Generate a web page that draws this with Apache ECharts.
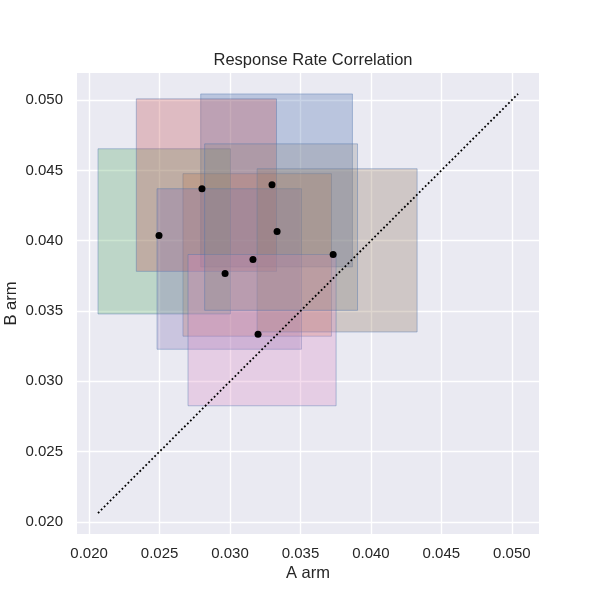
<!DOCTYPE html>
<html>
<head>
<meta charset="utf-8">
<script src="https://cdn.jsdelivr.net/npm/echarts@6/dist/echarts.min.js"></script>
<style>html,body{margin:0;padding:0;background:#fff;}#chart{width:600px;height:600px;}</style>
</head>
<body>
<div id="chart"></div>
<script>
// Point estimates (A arm rate, B arm rate)
const aRate = [0.03298, 0.03163, 0.02496, 0.02801, 0.02965, 0.03732, 0.03199, 0.03334];
const bRate = [0.04399, 0.03867, 0.04037, 0.04370, 0.03767, 0.03902, 0.03335, 0.04065];
// Interval bounds
const aLow  = [0.02792, 0.02666, 0.02063, 0.02335, 0.02482, 0.03192, 0.02702, 0.02820];
const aHigh = [0.03869, 0.03720, 0.03003, 0.03330, 0.03507, 0.04328, 0.03753, 0.03905];
const bLow  = [0.03814, 0.03321, 0.03479, 0.03782, 0.03228, 0.03351, 0.02826, 0.03505];
const bHigh = [0.05044, 0.04477, 0.04654, 0.05009, 0.04370, 0.04512, 0.03902, 0.04689];
const boxColors = ['#4C72B0', '#DD8452', '#55A868', '#C44E52', '#8172B3', '#937860', '#DA8BC3', '#8C8C8C'];
// Reference diagonal ends
const diagonal = [0.02063, 0.05044];
// Axis
const axisRange = [0.01914, 0.05193];
const tickValues = [0.020, 0.025, 0.030, 0.035, 0.040, 0.045, 0.050];

function hexA(hex, a) {
  const r = parseInt(hex.slice(1,3),16), g = parseInt(hex.slice(3,5),16), b = parseInt(hex.slice(5,7),16);
  return 'rgba(' + r + ',' + g + ',' + b + ',' + a + ')';
}

const boxData = aLow.map((v, i) => [aLow[i], aHigh[i], bLow[i], bHigh[i], i]);
const pts = aRate.map((v, i) => [aRate[i], bRate[i]]);
const textColor = '#262626';
const font = 'Liberation Sans, Arial, sans-serif';

function makeAxis(name, isY) {
  return {
    type: 'value',
    min: axisRange[0], max: axisRange[1],
    name: name,
    nameLocation: 'middle',
    nameGap: isY ? 57 : 31,
    nameMoveOverlap: false,
    nameTextStyle: { color: textColor, fontSize: 16.5, fontFamily: font },
    axisLine: { show: false },
    axisTick: { show: false, customValues: tickValues },
    axisLabel: {
      customValues: tickValues,
      color: textColor, fontSize: 15, fontFamily: font,
      margin: isY ? 14 : 12,
      formatter: v => Number(v).toFixed(3)
    },
    splitLine: { show: true, lineStyle: { color: '#ffffff', width: 1.4 } }
  };
}

const chart = echarts.init(document.getElementById('chart'), null, { renderer: 'canvas' });
chart.setOption({
  animation: false,
  backgroundColor: '#ffffff',
  title: {
    text: 'Response Rate Correlation',
    left: 308, top: 47, textAlign: 'center',
    textStyle: { color: textColor, fontSize: 16.5, fontWeight: 'normal', fontFamily: font }
  },
  grid: { left: 77, right: 61, top: 73, bottom: 66, show: true, backgroundColor: '#EAEAF2', borderWidth: 0,
          containLabel: false, outerBoundsMode: 'none' },
  xAxis: makeAxis('A arm', false),
  yAxis: makeAxis('B arm', true),
  series: [
    {
      type: 'custom',
      data: boxData,
      encode: { x: [0, 1], y: [2, 3] },
      renderItem: function (params, api) {
        const p0 = api.coord([api.value(0), api.value(3)]);
        const p1 = api.coord([api.value(1), api.value(2)]);
        const c = boxColors[api.value(4)];
        return {
          type: 'rect',
          shape: { x: p0[0], y: p0[1], width: p1[0] - p0[0], height: p1[1] - p0[1] },
          style: { fill: hexA(c, 0.3), stroke: 'rgba(76,114,176,0.4)', lineWidth: 1 }
        };
      },
      z: 2
    },
    {
      type: 'line',
      data: [[diagonal[0], diagonal[0]], [diagonal[1], diagonal[1]]],
      symbol: 'none',
      lineStyle: { color: '#000', width: 1.8, type: [1.8, 2.4] },
      z: 3
    },
    {
      type: 'scatter',
      data: pts,
      symbolSize: 7,
      itemStyle: { color: '#000', opacity: 1 },
      z: 4
    }
  ]
});
</script>
</body>
</html>
